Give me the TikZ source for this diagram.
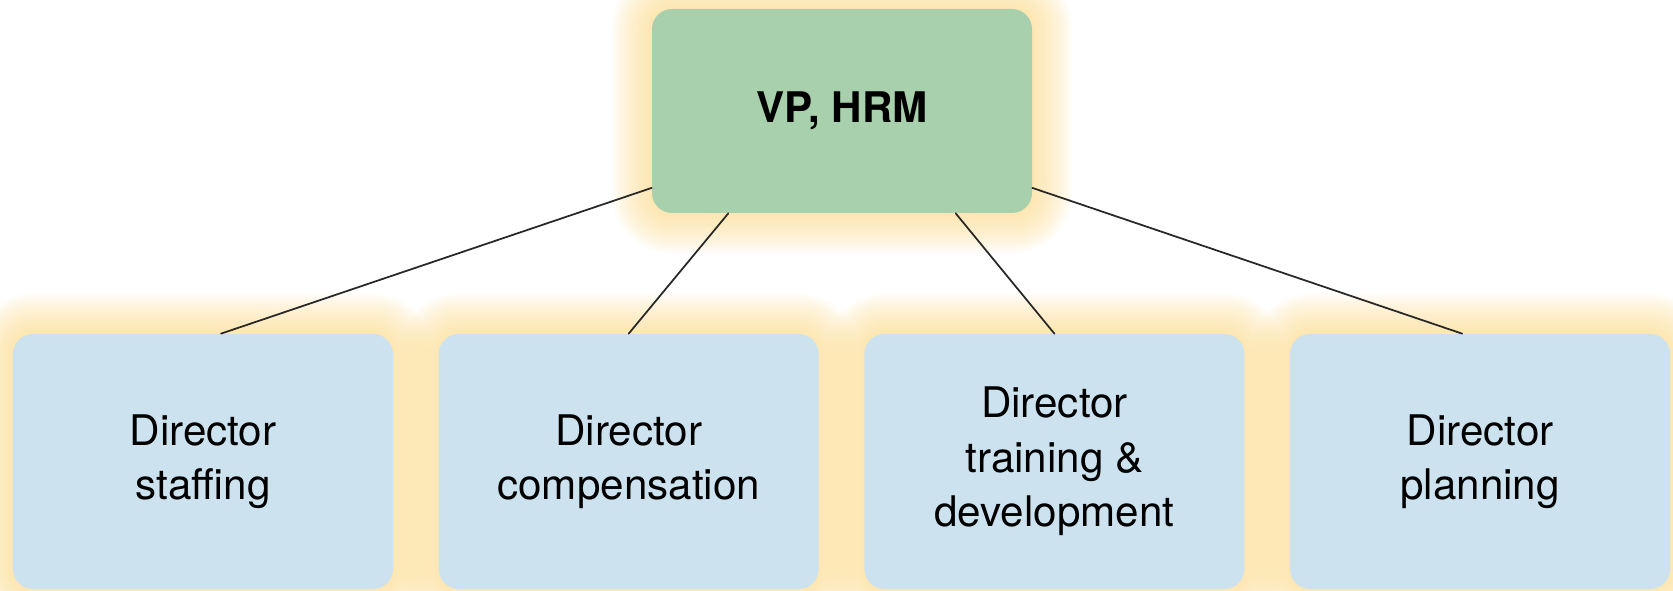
\documentclass[tikz,border=0pt]{standalone}
\usepackage{fontspec}
\setmainfont{TeX Gyre Heros}
\usetikzlibrary{positioning,backgrounds}

\begin{document}
\begin{tikzpicture}[line join=round, line cap=round,
  font=\fontsize{24}{31}\selectfont,
  box/.style={rounded corners=0.4cm, minimum width=7.6cm, align=center, inner sep=0pt},
  headbox/.style={box, fill=hrgreen, minimum height=4.08cm, font=\fontsize{24}{31}\selectfont\bfseries},
  dirbox/.style={box, fill=hrblue, minimum height=5.1cm},
  link/.style={draw=linkgray, line width=1pt}]

% ---------- helpers ----------
\definecolor{hrgreen}{RGB}{168,208,172}
\definecolor{hrblue}{RGB}{205,226,239}
\definecolor{hrglow}{RGB}{252,218,140}
\definecolor{linkgray}{RGB}{40,40,40}

% glowbox: soft halo round a node
\newcommand{\glowbox}[1]{%
  \foreach \g in {1,...,20}{%
    \pgfmathsetmacro{\glowr}{0.4+\g*0.04}
    \fill[hrglow, opacity=0.05, rounded corners=\glowr cm]
      ([shift={(-\g*0.04cm,-\g*0.04cm)}]#1.south west) rectangle ([shift={(\g*0.04cm,\g*0.04cm)}]#1.north east);
  }%
}

\useasboundingbox (0,0) rectangle (33.46,11.8);

% ---------- boxes ----------
\node[headbox] (vp) at (16.84,9.58) {VP, HRM};

\node[dirbox] (staff) at (4.06,2.57) {Director\\staffing};
\node[dirbox, right=0.9cm of staff] (comp) {Director\\compensation};
\node[dirbox, right=0.9cm of comp] (train) {Director\\training \&\\development};
\node[dirbox, right=0.9cm of train] (plan) {Director\\planning};

% ---------- glow ----------
\begin{scope}[on background layer]
  \foreach \n in {vp,staff,comp,train,plan}{\glowbox{\n}}
\end{scope}

% ---------- links ----------
\draw[link] (vp.202) -- ([xshift=0.36cm]staff.north);
\draw[link] (vp.222) -- (comp.north);
\draw[link] (vp.318) -- (train.north);
\draw[link] (vp.338) -- ([xshift=-0.36cm]plan.north);

\end{tikzpicture}
\end{document}
